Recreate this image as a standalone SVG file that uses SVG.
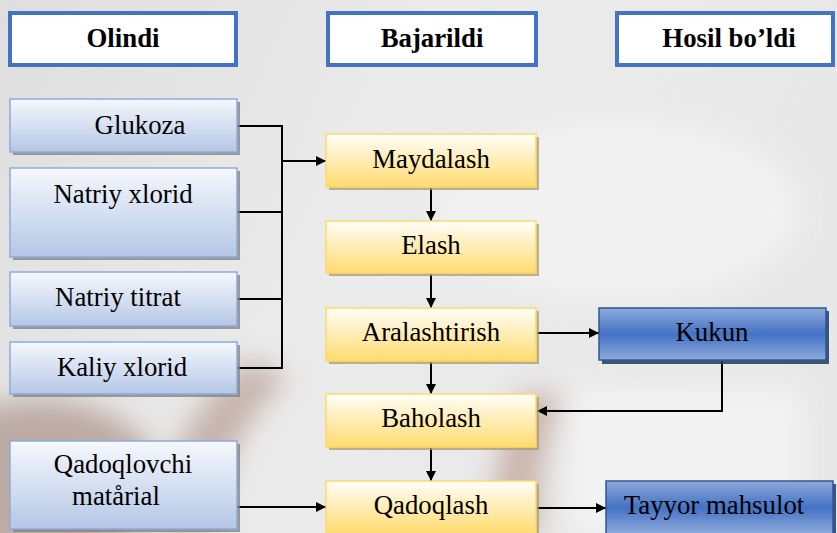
<svg xmlns="http://www.w3.org/2000/svg" width="837" height="533" viewBox="0 0 837 533">
<defs>
<linearGradient id="bg" x1="0" y1="0" x2="1" y2="0.3">
<stop offset="0" stop-color="#dedede"/>
<stop offset="0.5" stop-color="#ebebeb"/>
<stop offset="1" stop-color="#e8e8e8"/>
</linearGradient>
<linearGradient id="gBlue" x1="0" y1="0" x2="0" y2="1">
<stop offset="0" stop-color="#f6f8fc"/>
<stop offset="1" stop-color="#b4c7e7"/>
</linearGradient>
<linearGradient id="gYel" x1="0" y1="0" x2="0" y2="1">
<stop offset="0" stop-color="#fffefa"/>
<stop offset="1" stop-color="#ffdb6e"/>
</linearGradient>
<linearGradient id="gDark" x1="0" y1="0" x2="0" y2="1">
<stop offset="0" stop-color="#8eaadb"/>
<stop offset="0.5" stop-color="#4472c4"/>
<stop offset="1" stop-color="#8eaadb"/>
</linearGradient>
<filter id="blur" x="-50%" y="-50%" width="200%" height="200%"><feGaussianBlur stdDeviation="14"/></filter>
<marker id="ah" viewBox="0 0 10 10" refX="10" refY="5" markerWidth="10" markerHeight="10" markerUnits="userSpaceOnUse" orient="auto">
<path d="M0,0 L10,5 L0,10 z" fill="#000"/>
</marker>
<style>
.hdr{fill:#fff;stroke:#4472c4;stroke-width:4}
.bl{fill:url(#gBlue);stroke:#8eaadb;stroke-width:1.5}
.bls{fill:#7f7f7f;opacity:0.75}
.yl{fill:url(#gYel);stroke:#ffd966;stroke-width:1.5}
.yls{fill:#a89a70;opacity:0.75}
.dk{fill:url(#gDark);stroke:#2f5597;stroke-width:1.5}
.dks{fill:#1f3864;opacity:0.85}
.t{font-family:"Liberation Serif","Times New Roman",serif;font-size:26.8px;fill:#000;text-anchor:middle}
.b{font-weight:bold}
.ln{fill:none;stroke:#000;stroke-width:2}
</style>
</defs>
<rect width="837" height="533" fill="url(#bg)"/>
<g filter="url(#blur)" opacity="0.85">
<ellipse cx="40" cy="480" rx="120" ry="80" fill="#b5a098"/>
<path d="M150,533 Q175,410 250,360 L290,378 Q225,430 215,533 z" fill="#c0aaa2"/>
<path d="M490,533 Q498,420 530,390 L565,400 Q535,450 540,533 z" fill="#c4aca3"/>
<rect x="570" y="390" width="230" height="143" fill="#f5f5f5"/>
<ellipse cx="620" cy="210" rx="180" ry="90" fill="#f3f3f3"/>
</g>

<g id="hdr-olindi"><rect class="hdr" x="10" y="13" width="226" height="52"/><text class="t b" x="123" y="47">Olindi</text></g>
<g id="hdr-bajarildi"><rect class="hdr" x="328" y="13" width="208" height="52"/><text class="t b" x="432" y="47">Bajarildi</text></g>
<g id="hdr-hosil"><rect class="hdr" x="617" y="13" width="216" height="52"/><text class="t b" x="729" y="47">Hosil bo’ldi</text></g>

<g id="connectors">
<path class="ln" d="M237,126 H282 V368 H237"/>
<path class="ln" d="M237,212 H282"/>
<path class="ln" d="M237,299 H282"/>
<path class="ln" d="M282,161 H326" marker-end="url(#ah)"/>
<path class="ln" d="M431,188 V221" marker-end="url(#ah)"/>
<path class="ln" d="M431,274 V308" marker-end="url(#ah)"/>
<path class="ln" d="M431,362 V394" marker-end="url(#ah)"/>
<path class="ln" d="M431,448 V481" marker-end="url(#ah)"/>
<path class="ln" d="M537,333 H599" marker-end="url(#ah)"/>
<path class="ln" d="M722,361 V411 H537" marker-end="url(#ah)"/>
<path class="ln" d="M237,507 H326" marker-end="url(#ah)"/>
<path class="ln" d="M537,508 H606" marker-end="url(#ah)"/>
</g>

<g id="glukoza"><rect class="bls" x="13" y="102" width="227" height="53"/><rect class="bl" x="10" y="99" width="227" height="53"/><text class="t" x="140" y="134">Glukoza</text></g>
<g id="natriy-xlorid"><rect class="bls" x="13" y="171" width="227" height="89"/><rect class="bl" x="10" y="168" width="227" height="89"/><text class="t" x="123" y="203">Natriy xlorid</text></g>
<g id="natriy-titrat"><rect class="bls" x="13" y="275" width="227" height="54"/><rect class="bl" x="10" y="272" width="227" height="54"/><text class="t" x="118" y="306">Natriy titrat</text></g>
<g id="kaliy-xlorid"><rect class="bls" x="13" y="345" width="227" height="52"/><rect class="bl" x="10" y="342" width="227" height="52"/><text class="t" x="122" y="376">Kaliy xlorid</text></g>
<g id="qadoqlovchi"><rect class="bls" x="13" y="444" width="227" height="88"/><rect class="bl" x="10" y="441" width="227" height="88"/><text class="t" x="123" y="473">Qadoqlovchi</text><text class="t" x="116" y="505">matårial</text></g>

<g id="maydalash"><rect class="yls" x="329" y="137" width="210" height="53"/><rect class="yl" x="326" y="134" width="210" height="53"/><text class="t" x="431" y="168">Maydalash</text></g>
<g id="elash"><rect class="yls" x="329" y="224" width="210" height="52"/><rect class="yl" x="326" y="221" width="210" height="52"/><text class="t" x="431" y="254">Elash</text></g>
<g id="aralashtirish"><rect class="yls" x="329" y="311" width="210" height="53"/><rect class="yl" x="326" y="308" width="210" height="53"/><text class="t" x="431" y="341">Aralashtirish</text></g>
<g id="baholash"><rect class="yls" x="329" y="397" width="210" height="53"/><rect class="yl" x="326" y="394" width="210" height="53"/><text class="t" x="431" y="427">Baholash</text></g>
<g id="qadoqlash"><rect class="yls" x="329" y="484" width="210" height="53"/><rect class="yl" x="326" y="481" width="210" height="53"/><text class="t" x="431" y="514">Qadoqlash</text></g>

<g id="kukun"><rect class="dks" x="602" y="311" width="227" height="53"/><rect class="dk" x="599" y="308" width="227" height="52"/><text class="t" x="712" y="341">Kukun</text></g>
<g id="tayyor"><rect class="dks" x="609" y="484" width="227" height="53"/><rect class="dk" x="606" y="481" width="227" height="53"/><text class="t" x="714" y="514">Tayyor mahsulot</text></g>
</svg>
